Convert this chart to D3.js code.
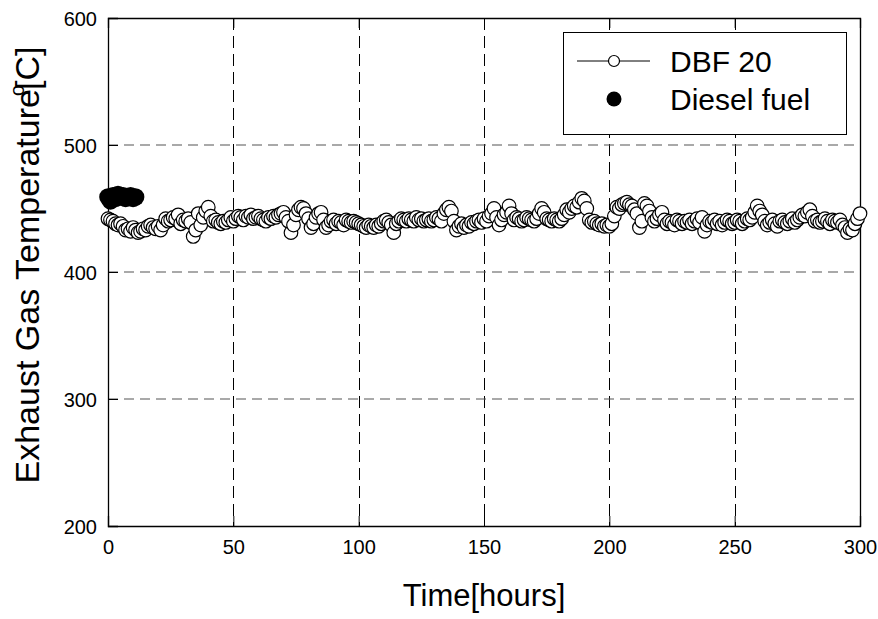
<!DOCTYPE html>
<html>
<head>
<meta charset="utf-8">
<script src="https://cdn.jsdelivr.net/npm/d3@7/dist/d3.min.js"></script>
<style>
  html, body { margin: 0; padding: 0; background: #fff; }
  svg { display: block; font-family: Arial, "Liberation Sans", sans-serif; }
</style>
</head>
<body>
<svg id="chart" width="878" height="619"></svg>
<script>
// Exhaust gas temperature over 300 hours of running
const xTicks = [0, 50, 100, 150, 200, 250, 300];
const yTicks = [200, 300, 400, 500, 600];

// DBF 20 blend, one reading per hour (t = 0 .. 300)
const dbfTemps = [
  442, 441, 440, 438, 437, 438, 436, 433, 434, 432,
  435, 433, 431, 432, 434, 433, 436, 437, 435, 434,
  436, 433, 437, 442, 440, 441, 443, 442, 445, 438,
  441, 440, 442, 439, 428, 433, 446, 437, 443, 448,
  451, 444, 440, 441, 439, 438, 440, 439, 441, 443,
  440, 442, 444, 443, 441, 444, 443, 445, 442, 443,
  444, 442, 441, 440, 443, 442, 444, 443, 445, 446,
  447, 443, 440, 431, 437, 445, 449, 451, 450, 446,
  442, 435, 438, 443, 446, 447, 441, 435, 437, 440,
  441, 438, 440, 439, 437, 441, 440, 439, 440, 439,
  438, 437, 436, 435, 437, 436, 435, 437, 436, 438,
  440, 441, 439, 437, 431, 438, 440, 442, 441, 440,
  442, 441, 440, 443, 441, 442, 440, 441, 442, 440,
  441, 443, 442, 440, 446, 449, 451, 448, 440, 433,
  436, 438, 435, 437, 436, 439, 438, 440, 441, 439,
  442, 440, 444, 446, 450, 443, 437, 441, 445, 447,
  452, 446, 441, 443, 442, 440, 441, 443, 442, 441,
  440, 442, 446, 450, 447, 442, 441, 440, 442, 441,
  440, 442, 445, 449, 447, 450, 452, 451, 455, 458,
  456, 450, 441, 439, 440, 438, 437, 438, 436, 437,
  436, 438, 444, 451, 450, 453, 454, 455, 453, 452,
  449, 446, 435, 440, 454, 452, 448, 443, 440, 442,
  445, 447, 441, 438, 440, 439, 437, 441, 440, 438,
  440, 439, 441, 438, 440, 442, 439, 443, 432, 437,
  440, 439, 441, 438, 440, 437, 439, 441, 440, 438,
  439, 441, 440, 438, 440, 442, 441, 443, 447, 452,
  448, 445, 440, 437, 439, 441, 438, 436, 440, 441,
  439, 438, 440, 442, 439, 441, 443, 445, 444, 447,
  449, 444, 440, 441, 439, 440, 442, 440, 438, 441,
  440, 439, 441, 437, 435, 431, 434, 433, 438, 442,
  446
];
const dbfHours = dbfTemps.map((_, i) => i);

// Straight diesel fuel baseline, first 11 hours
const dieselHours = [0, 1, 2, 3, 4, 5, 6, 7, 8, 9, 10, 11];
const dieselTemps = [459, 456, 460, 458, 461, 459, 460, 458, 459, 460, 458, 459];

const seriesNames = ["DBF 20", "Diesel fuel"];

const svg = d3.select("#chart");
const m = { left: 108, right: 860, top: 18, bottom: 526 };

const x = d3.scaleLinear().domain([0, 300]).range([m.left, m.right]);
const y = d3.scaleLinear().domain([200, 600]).range([m.bottom, m.top]);

// grid lines
const grid = svg.append("g");
grid.selectAll("line.vg")
  .data(xTicks.filter(t => t > 0 && t < 300))
  .join("line")
  .attr("x1", d => Math.round(x(d)) + 0.5).attr("x2", d => Math.round(x(d)) + 0.5)
  .attr("y1", m.top).attr("y2", m.bottom)
  .attr("stroke", "#000").attr("stroke-width", 1)
  .attr("stroke-dasharray", "12,6");
grid.selectAll("line.hg")
  .data(yTicks.filter(t => t > 200 && t < 600))
  .join("line")
  .attr("x1", m.left).attr("x2", m.right)
  .attr("y1", d => y(d)).attr("y2", d => y(d))
  .attr("stroke", "#555").attr("stroke-width", 1.2)
  .attr("stroke-dasharray", "10,6");

// axes with inward ticks
const xAxis = d3.axisBottom(x).tickValues(xTicks).tickSize(-10).tickPadding(14);
const gx = svg.append("g").attr("transform", `translate(0,${m.bottom})`).call(xAxis);
const xTop = d3.axisTop(x).tickValues(xTicks).tickSize(-10).tickFormat("");
const gxt = svg.append("g").attr("transform", `translate(0,${m.top})`).call(xTop);
const yAxis = d3.axisLeft(y).tickValues(yTicks).tickSize(-10).tickPadding(11);
const gy = svg.append("g").attr("transform", `translate(${m.left},0)`).call(yAxis);
const yRight = d3.axisRight(y).tickValues([]).tickSizeOuter(0);
const gyr = svg.append("g").attr("transform", `translate(${m.right},0)`).call(yRight);

[gx, gxt, gy, gyr].forEach(g => {
  g.select(".domain").attr("stroke", "#000").attr("stroke-width", 1.3);
  g.selectAll(".tick line").attr("stroke", "#000").attr("stroke-width", 1);
  g.selectAll(".tick text").attr("fill", "#000").attr("font-size", 20)
    .attr("font-family", "Arial, 'Liberation Sans', sans-serif");
});
gx.selectAll(".tick text").attr("dy", "0.71em");
gy.selectAll(".tick text").attr("dy", "0.35em");

// DBF 20 series: thin line with open circles
svg.append("path")
  .datum(dbfHours)
  .attr("fill", "none").attr("stroke", "#000").attr("stroke-width", 1)
  .attr("d", d3.line().x(d => x(d)).y((d, i) => y(dbfTemps[i])));
svg.append("g").selectAll("circle")
  .data(dbfHours)
  .join("circle")
  .attr("cx", d => x(d)).attr("cy", (d, i) => y(dbfTemps[i]))
  .attr("r", 6.8)
  .attr("fill", "#fff").attr("stroke", "#000").attr("stroke-width", 1.2);

// diesel fuel series: filled circles
svg.append("g").selectAll("circle")
  .data(dieselHours)
  .join("circle")
  .attr("cx", d => x(d)).attr("cy", (d, i) => y(dieselTemps[i]))
  .attr("r", 8.8)
  .attr("fill", "#000");

// axis titles
svg.append("text")
  .attr("x", (m.left + m.right) / 2).attr("y", 606)
  .attr("text-anchor", "middle").attr("font-size", 31)
  .text("Time[hours]");

const yt = svg.append("text")
  .attr("transform", `translate(39,265) rotate(-90)`)
  .attr("text-anchor", "middle").attr("font-size", 34);
yt.append("tspan").text("Exhaust Gas Temperature");
yt.append("tspan").attr("font-size", 20).attr("dy", -15).attr("dx", -7).text("o");
yt.append("tspan").attr("dy", 15).attr("dx", -5).text("[C]");

// legend
const lg = svg.append("g");
lg.append("rect")
  .attr("x", 563.5).attr("y", 32.5).attr("width", 283).attr("height", 102)
  .attr("fill", "#fff").attr("stroke", "#000").attr("stroke-width", 1);
lg.append("line")
  .attr("x1", 577).attr("x2", 650).attr("y1", 61).attr("y2", 61)
  .attr("stroke", "#000").attr("stroke-width", 1);
lg.append("circle").attr("cx", 614).attr("cy", 61).attr("r", 5.5)
  .attr("fill", "#fff").attr("stroke", "#000").attr("stroke-width", 1.2);
lg.append("circle").attr("cx", 614).attr("cy", 99).attr("r", 7.5).attr("fill", "#000");
lg.selectAll("text.lab")
  .data(seriesNames)
  .join("text")
  .attr("x", 670).attr("y", (d, i) => 72 + i * 38)
  .attr("font-size", 30)
  .text(d => d);
</script>
</body>
</html>
